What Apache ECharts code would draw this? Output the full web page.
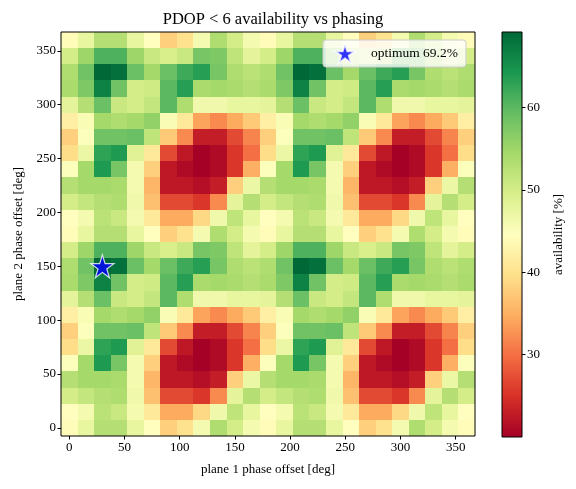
<!DOCTYPE html>
<html>
<head>
<meta charset="utf-8">
<script src="https://cdn.jsdelivr.net/npm/echarts@6/dist/echarts.min.js"></script>
<style>
    html, body { margin: 0; padding: 0; background: #fff; }
    #chart { width: 576px; height: 489px; }
</style>
</head>
<body>
<div id="chart"></div>
<script>
    // phase offsets (cell centres, deg)
    var xOffsets = [0, 15, 30, 45, 60, 75, 90, 105, 120, 135, 150, 165, 180, 195, 210, 225, 240, 255, 270, 285, 300, 315, 330, 345, 360];
    var yOffsets = [0, 15, 30, 45, 60, 75, 90, 105, 120, 135, 150, 165, 180, 195, 210, 225, 240, 255, 270, 285, 300, 315, 330, 345, 360];

    // availability [%], one row per plane 2 offset (bottom row first)
    var availability = [
        [44, 47.5, 53, 53, 47.5, 44.5, 38, 40, 46, 53.5, 50, 46, 44, 47.5, 53, 53, 47.5, 44.5, 38, 40, 46, 53.5, 50, 46, 44],
        [44.5, 46, 52.5, 51, 46, 41, 34.5, 34.5, 39, 46.5, 52, 47.5, 44.5, 46, 52.5, 51, 46, 41, 34.5, 34.5, 39, 46.5, 52, 47.5, 44.5],
        [50, 51.5, 53, 53.5, 46.5, 36.5, 27, 27, 25.5, 32, 48, 53, 50, 51.5, 53, 53.5, 46.5, 36.5, 27, 27, 25.5, 32, 48, 53, 50],
        [53, 54.5, 54.5, 54, 46, 35.5, 22.5, 22.5, 21.5, 23, 38, 47, 53, 54.5, 54.5, 54, 46, 35.5, 22.5, 22.5, 21.5, 23, 38, 47, 53],
        [45, 54.5, 64, 58, 46, 38, 22.5, 21, 20, 21, 25.5, 35, 45, 54.5, 64, 58, 46, 38, 22.5, 21, 20, 21, 25.5, 35, 45],
        [39.5, 47, 63, 64, 48.5, 41, 27, 22.5, 20, 21, 25.5, 30, 39.5, 47, 63, 64, 48.5, 41, 27, 22.5, 20, 21, 25.5, 30, 39.5],
        [38, 45, 58.5, 58.5, 59, 52, 37.5, 32, 23, 23, 27, 31.5, 38, 45, 58.5, 58.5, 59, 52, 37.5, 32, 23, 23, 27, 31.5, 38],
        [42, 45.5, 54.5, 53.5, 54.5, 56, 45.5, 41, 34, 32, 34.5, 37.5, 42, 45.5, 54.5, 53.5, 54.5, 56, 45.5, 41, 34, 32, 34.5, 37.5, 42],
        [48, 53, 59, 51, 50, 51.5, 60, 53.5, 46.5, 46.5, 47.5, 47.5, 48, 53, 59, 51, 50, 51.5, 60, 53.5, 46.5, 46.5, 47.5, 47.5, 48],
        [54, 57.5, 66.5, 58.5, 50, 50.5, 60, 63.5, 54, 54.5, 54, 53, 54, 57.5, 66.5, 58.5, 50, 50.5, 60, 63.5, 54, 54.5, 54, 53, 54],
        [53.5, 58.5, 69.2, 68.4, 59, 54.5, 59, 62, 63.5, 58, 53.5, 52.5, 53.5, 58.5, 69.2, 68.4, 59, 54.5, 59, 62, 63.5, 58, 53.5, 52.5, 53.5],
        [50, 55, 61, 61, 55, 51, 49.5, 51, 58, 57.5, 52, 48, 50, 55, 61, 61, 55, 51, 49.5, 51, 58, 57.5, 52, 48, 50],
        [44, 47.5, 53, 53, 47.5, 44.5, 38, 40, 46, 53.5, 50, 46, 44, 47.5, 53, 53, 47.5, 44.5, 38, 40, 46, 53.5, 50, 46, 44],
        [44.5, 46, 52.5, 51, 46, 41, 34.5, 34.5, 39, 46.5, 52, 47.5, 44.5, 46, 52.5, 51, 46, 41, 34.5, 34.5, 39, 46.5, 52, 47.5, 44.5],
        [50, 51.5, 53, 53.5, 46.5, 36.5, 27, 27, 25.5, 32, 48, 53, 50, 51.5, 53, 53.5, 46.5, 36.5, 27, 27, 25.5, 32, 48, 53, 50],
        [53, 54.5, 54.5, 54, 46, 35.5, 22.5, 22.5, 21.5, 23, 38, 47, 53, 54.5, 54.5, 54, 46, 35.5, 22.5, 22.5, 21.5, 23, 38, 47, 53],
        [45, 54.5, 64, 58, 46, 38, 22.5, 21, 20, 21, 25.5, 35, 45, 54.5, 64, 58, 46, 38, 22.5, 21, 20, 21, 25.5, 35, 45],
        [39.5, 47, 63, 64, 48.5, 41, 27, 22.5, 20, 21, 25.5, 30, 39.5, 47, 63, 64, 48.5, 41, 27, 22.5, 20, 21, 25.5, 30, 39.5],
        [38, 45, 58.5, 58.5, 59, 52, 37.5, 32, 23, 23, 27, 31.5, 38, 45, 58.5, 58.5, 59, 52, 37.5, 32, 23, 23, 27, 31.5, 38],
        [42, 45.5, 54.5, 53.5, 54.5, 56, 45.5, 41, 34, 32, 34.5, 37.5, 42, 45.5, 54.5, 53.5, 54.5, 56, 45.5, 41, 34, 32, 34.5, 37.5, 42],
        [48, 53, 59, 51, 50, 51.5, 60, 53.5, 46.5, 46.5, 47.5, 47.5, 48, 53, 59, 51, 50, 51.5, 60, 53.5, 46.5, 46.5, 47.5, 47.5, 48],
        [54, 57.5, 66.5, 58.5, 50, 50.5, 60, 63.5, 54, 54.5, 54, 53, 54, 57.5, 66.5, 58.5, 50, 50.5, 60, 63.5, 54, 54.5, 54, 53, 54],
        [53.5, 58.5, 69.2, 68.4, 59, 54.5, 59, 62, 63.5, 58, 53.5, 52.5, 53.5, 58.5, 69.2, 68.4, 59, 54.5, 59, 62, 63.5, 58, 53.5, 52.5, 53.5],
        [50, 55, 61, 61, 55, 51, 49.5, 51, 58, 57.5, 52, 48, 50, 55, 61, 61, 55, 51, 49.5, 51, 58, 57.5, 52, 48, 50],
        [44, 47.5, 53, 53, 47.5, 44.5, 38, 40, 46, 53.5, 50, 46, 44, 47.5, 53, 53, 47.5, 44.5, 38, 40, 46, 53.5, 50, 46, 44]
    ];

    // best phasing found
    var optimum = [30, 150, 69.2];

    // tick labels
    var xTicks = [0, 50, 100, 150, 200, 250, 300, 350];
    var yTicks = [0, 50, 100, 150, 200, 250, 300, 350];
    var cbarTicks = [30, 40, 50, 60];
    var cbarRange = [20, 69.2];

    // RdYlGn
    var rdylgn = ['#a50026', '#d73027', '#f46d43', '#fdae61', '#fee08b', '#ffffbf',
                  '#d9ef8b', '#a6d96a', '#66bd63', '#1a9850', '#006837'];

    var font = 'Liberation Serif';
    var star = 'path://M0,-10L2.245,-3.09L9.511,-3.09L3.633,1.18L5.878,8.09L0,3.82L-5.878,8.09L-3.633,1.18L-9.511,-3.09L-2.245,-3.09Z';

    var cells = [];
    for (var j = 0; j < yOffsets.length; j++) {
        for (var i = 0; i < xOffsets.length; i++) {
            cells.push([xOffsets[i], yOffsets[j], availability[j][i]]);
        }
    }
    var halfX = (xOffsets[1] - xOffsets[0]) / 2;
    var halfY = (yOffsets[1] - yOffsets[0]) / 2;

    var chart = echarts.init(document.getElementById('chart'));

    var axisText = { color: '#000', fontFamily: font, fontSize: 13 };

    function tickLabel(values) {
        return { customValues: values, margin: 5, color: '#000', fontFamily: font, fontSize: 13 };
    }

    function tickMark(values) {
        return { show: true, inside: false, customValues: values, length: 3.5, lineStyle: { color: '#000' } };
    }

    var option = {
        animation: false,
        title: {
            text: 'PDOP < 6 availability vs phasing',
            left: 268,
            textAlign: 'center',
            top: 6,
            textStyle: { color: '#000', fontFamily: font, fontSize: 16.5, fontWeight: 'normal' }
        },
        legend: {
            left: 323,
            top: 40,
            padding: [3, 8, 3, 11],
            backgroundColor: 'rgba(255,255,255,0.8)',
            borderColor: '#cccccc',
            borderWidth: 1,
            borderRadius: 3,
            itemWidth: 20,
            itemHeight: 19,
            data: ['optimum 69.2%'],
            textStyle: { color: '#000', fontFamily: font, fontSize: 13.5, padding: [0, 0, 0, 11] }
        },
        visualMap: {
            type: 'continuous',
            show: false,
            seriesIndex: 0,
            dimension: 2,
            min: cbarRange[0],
            max: cbarRange[1],
            inRange: { color: rdylgn }
        },
        grid: [
            { left: 61, top: 32, width: 414, height: 404, show: true, borderColor: '#000', borderWidth: 1, backgroundColor: 'transparent', z: 10 },
            { left: 502, top: 32, width: 20, height: 405, show: true, borderColor: '#000', borderWidth: 1, backgroundColor: 'transparent', z: 10 }
        ],
        xAxis: [{
            gridIndex: 0,
            type: 'value',
            position: 'bottom',
            min: -7.5,
            max: 367.5,
            axisLine: { show: false, onZero: false },
            axisTick: tickMark(xTicks),
            axisLabel: tickLabel(xTicks),
            splitLine: { show: false },
            name: 'plane 1 phase offset [deg]',
            nameLocation: 'middle',
            nameGap: 27,
            nameTextStyle: axisText,
            z: 10
        }, {
            gridIndex: 1,
            type: 'value',
            min: 0,
            max: 1,
            show: false
        }],
        yAxis: [{
            gridIndex: 0,
            type: 'value',
            position: 'left',
            min: -7.5,
            max: 367.5,
            axisLine: { show: false, onZero: false },
            axisTick: tickMark(yTicks),
            axisLabel: tickLabel(yTicks),
            splitLine: { show: false },
            name: 'plane 2 phase offset [deg]',
            nameLocation: 'middle',
            nameRotate: 90,
            nameGap: 36,
            nameTextStyle: axisText,
            z: 10
        }, {
            gridIndex: 1,
            type: 'value',
            position: 'right',
            min: cbarRange[0],
            max: cbarRange[1],
            axisLine: { show: false, onZero: false },
            axisTick: tickMark(cbarTicks),
            axisLabel: tickLabel(cbarTicks),
            splitLine: { show: false },
            name: 'availability [%]',
            nameLocation: 'middle',
            nameRotate: 90,
            nameGap: 30,
            nameTextStyle: axisText,
            z: 10
        }],
        series: [{
            type: 'custom',
            xAxisIndex: 0,
            yAxisIndex: 0,
            renderItem: function (params, api) {
                var x = api.value(0), y = api.value(1);
                var p0 = api.coord([x - halfX, y + halfY]);
                var p1 = api.coord([x + halfX, y - halfY]);
                var x0 = Math.round(p0[0]), y0 = Math.round(p0[1]);
                var x1 = Math.round(p1[0]), y1 = Math.round(p1[1]);
                return {
                    type: 'rect',
                    shape: { x: x0, y: y0, width: x1 - x0, height: y1 - y0 },
                    style: { fill: api.visual('color') }
                };
            },
            encode: { x: 0, y: 1 },
            data: cells,
            silent: true
        }, {
            name: 'optimum 69.2%',
            type: 'scatter',
            xAxisIndex: 0,
            yAxisIndex: 0,
            symbol: star,
            symbolSize: 23,
            itemStyle: { color: '#0000ff', borderColor: '#ffffff', borderWidth: 1.2 },
            data: [optimum],
            z: 5
        }, {
            // colour bar
            type: 'custom',
            xAxisIndex: 1,
            yAxisIndex: 1,
            renderItem: function (params, api) {
                var p0 = api.coord([0, api.value(2)]);
                var p1 = api.coord([1, api.value(1)]);
                var stops = rdylgn.map(function (c, k) {
                    return { offset: 1 - k / (rdylgn.length - 1), color: c };
                });
                return {
                    type: 'rect',
                    shape: { x: p0[0], y: p0[1], width: p1[0] - p0[0], height: p1[1] - p0[1] },
                    style: { fill: new echarts.graphic.LinearGradient(0, 0, 0, 1, stops) }
                };
            },
            encode: { x: 0, y: [1, 2] },
            data: [[0, cbarRange[0], cbarRange[1]]],
            silent: true
        }]
    };

    chart.setOption(option);
</script>
</body>
</html>
